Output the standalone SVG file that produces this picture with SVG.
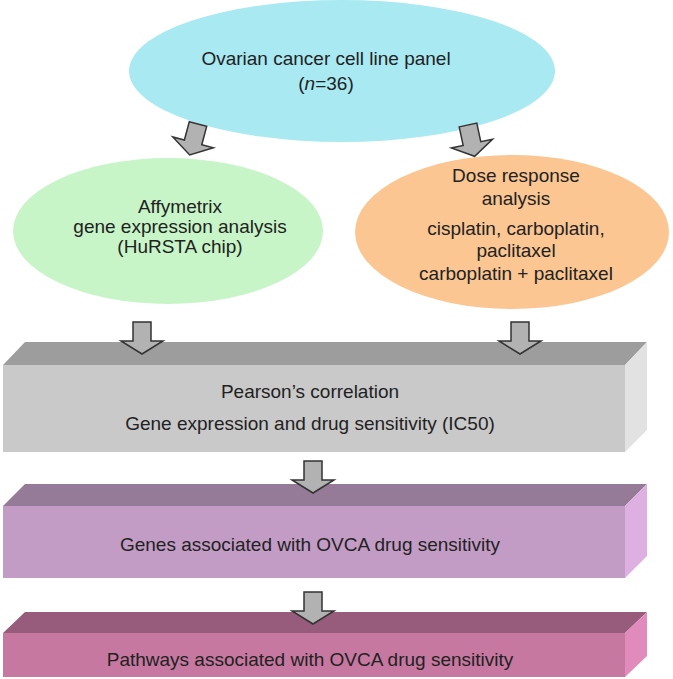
<svg xmlns="http://www.w3.org/2000/svg" xmlns:xlink="http://www.w3.org/1999/xlink" width="673" height="679" viewBox="0 0 673 679">
<style>
text{font-family:"Liberation Sans",Arial,Helvetica,sans-serif;font-size:19px;fill:#222;text-anchor:middle}
.arr{fill:#b2b2b2;stroke:#333;stroke-width:1.5;stroke-linejoin:miter}
</style>
<defs>
<path id="blockArrow" d="M-9,0 L9,0 L9,19 L21,19 L0,32 L-21,19 L-9,19 Z"/>
</defs>
<rect width="673" height="679" fill="#fff"/>
<g id="node-panel">
<ellipse cx="342" cy="71" rx="213" ry="71" fill="#a9e9f2"/>
<text x="326" y="65">Ovarian cancer cell line panel</text>
<text x="326" y="90">(<tspan font-style="italic">n</tspan>=36)</text>
</g>
<g id="node-affymetrix">
<ellipse cx="168" cy="231" rx="155" ry="73" fill="#c8f5c8"/>
<text x="180" y="213">Affymetrix</text>
<text x="180" y="233">gene expression analysis</text>
<text x="180" y="253">(HuRSTA chip)</text>
</g>
<g id="node-dose">
<ellipse cx="512" cy="232" rx="157" ry="77" fill="#fbc692"/>
<text x="516" y="182">Dose response</text>
<text x="516" y="205">analysis</text>
<text x="516" y="235">cisplatin, carboplatin,</text>
<text x="516" y="257">paclitaxel</text>
<text x="516" y="280">carboplatin + paclitaxel</text>
</g>
<g id="node-pearson">
<polygon points="3,365 625,365 647,342 25,342" fill="#9d9d9d"/>
<polygon points="625,365 647,342 647,430 625,452" fill="#e2e2e2"/>
<rect x="3" y="365" width="622" height="87" fill="#c9c9c9"/>
<text x="310" y="398">Pearson’s correlation</text>
<text x="310" y="430">Gene expression and drug sensitivity (IC50)</text>
</g>
<g id="node-genes">
<polygon points="3,506 625,506 647,484 25,484" fill="#967b98"/>
<polygon points="625,506 647,484 647,556 625,578" fill="#ddb0e1"/>
<rect x="3" y="506" width="622" height="72" fill="#c29cc5"/>
<text x="310" y="551">Genes associated with OVCA drug sensitivity</text>
</g>
<g id="node-pathways">
<polygon points="3,633 625,633 647,612 25,612" fill="#975b7b"/>
<polygon points="625,633 647,612 647,656 625,677" fill="#e08bbb"/>
<rect x="3" y="633" width="622" height="44" fill="#c778a0"/>
<text x="310" y="666">Pathways associated with OVCA drug sensitivity</text>
</g>
<g id="connectors">
<use xlink:href="#blockArrow" class="arr" transform="translate(198,124) rotate(15)"/>
<use xlink:href="#blockArrow" class="arr" transform="translate(468,125) rotate(-12)"/>
<use xlink:href="#blockArrow" class="arr" transform="translate(142,322)"/>
<use xlink:href="#blockArrow" class="arr" transform="translate(520,322)"/>
<use xlink:href="#blockArrow" class="arr" transform="translate(313,461)"/>
<use xlink:href="#blockArrow" class="arr" transform="translate(313,592)"/>
</g>
</svg>
